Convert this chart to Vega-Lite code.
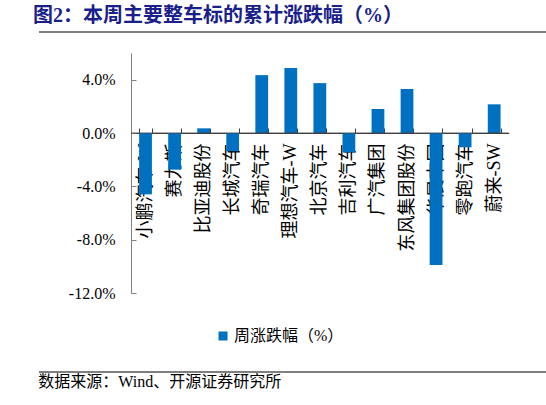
{
  "$schema": "https://vega.github.io/schema/vega-lite/v6.json",
  "background": "white",
  "padding": {"left": 30, "top": 6, "right": 0, "bottom": 0},
  "title": {
    "text": "图2：本周主要整车标的累计涨跌幅（%）",
    "anchor": "start",
    "font": "Liberation Serif, Noto Sans CJK SC",
    "fontSize": 20,
    "fontWeight": "bold",
    "color": "#1a1f8c",
    "dx": 3,
    "offset": 4
  },
  "config": {
    "view": {"stroke": null}
  },
  "spacing": 20,
  "resolve": {"legend": {"color": "independent"}},
  "vconcat": [
    {
      "width": 516,
      "height": 2,
      "data": {"values": [{"from": 0, "to": 1}]},
      "mark": {"type": "rule", "color": "#555555", "strokeWidth": 1.5},
      "encoding": {
        "x": {"field": "from", "type": "quantitative", "scale": {"domain": [0, 1]}, "axis": null},
        "x2": {"field": "to"},
        "y": {"datum": 0, "scale": {"domain": [0, 1]}, "axis": null}
      }
    },
    {
      "width": 516,
      "height": 240,
      "data": {
        "values": [
          {"name": "小鹏汽车-W", "change": -0.046},
          {"name": "赛力斯", "change": -0.0275},
          {"name": "比亚迪股份", "change": 0.0035},
          {"name": "长城汽车", "change": -0.0137},
          {"name": "奇瑞汽车", "change": 0.0434},
          {"name": "理想汽车-W", "change": 0.0487},
          {"name": "北京汽车", "change": 0.0374},
          {"name": "吉利汽车", "change": -0.0145},
          {"name": "广汽集团", "change": 0.018},
          {"name": "东风集团股份", "change": 0.033},
          {"name": "华晨中国", "change": -0.099},
          {"name": "零跑汽车", "change": -0.0107},
          {"name": "蔚来-SW", "change": 0.0215}
        ]
      },
      "encoding": {
        "x": {
          "field": "name",
          "type": "nominal",
          "sort": null,
          "scale": {"range": [92, 469.7], "paddingInner": 0.56, "paddingOuter": 0.28},
          "axis": {
            "title": null,
            "offset": -160,
            "labelAngle": -90,
            "labelFont": "Liberation Serif, Noto Sans CJK SC",
            "labelFontSize": 18,
            "labelColor": "#000000",
            "labelPadding": 15,
            "tickBand": "extent",
            "tickSize": -5,
            "tickColor": "#404040",
            "domainColor": "#404040",
            "domainWidth": 1.2
          }
        }
      },
      "layer": [
        {
          "mark": {"type": "bar", "color": "#0070C0"},
          "encoding": {
            "y": {
              "field": "change",
              "type": "quantitative",
              "scale": {"domain": [-0.12, 0.06], "nice": false},
              "axis": {
                "title": null,
                "grid": false,
                "offset": -92,
                "values": [-0.12, -0.1, -0.08, -0.06, -0.04, -0.02, 0, 0.02, 0.04, 0.06],
                "labelExpr": "replace(format(datum.value, '.1%'), '−', '-')",
                "labelFont": "Liberation Serif",
                "labelFontSize": 16,
                "labelColor": "#000000",
                "labelPadding": 21,
                "labelOverlap": false,
                "tickSize": -5,
                "tickColor": "#7f7f7f",
                "domainColor": "#7f7f7f"
              }
            },
            "color": {
              "datum": "周涨跌幅（%）",
              "scale": {"range": ["#0070C0"]},
              "legend": {
                "title": null,
                "orient": "none",
                "legendX": 176,
                "legendY": 275,
                "symbolType": "square",
                "symbolSize": 81,
                "labelFont": "Liberation Serif, Noto Sans CJK SC",
                "labelFontSize": 16,
                "labelColor": "#000000",
                "labelOffset": 3
              }
            }
          }
        },
        {
          "mark": {"type": "tick", "color": "#404040", "size": 29.1, "thickness": 1.2},
          "encoding": {
            "y": {"datum": 0}
          }
        }
      ]
    },
    {
      "width": 516,
      "height": 8,
      "data": {"values": [{"from": 0, "to": 1}]},
      "title": {
        "text": "数据来源：Wind、开源证券研究所",
        "orient": "bottom",
        "anchor": "start",
        "font": "Liberation Serif, Noto Sans CJK SC",
        "fontSize": 16,
        "fontWeight": "normal",
        "color": "#000000",
        "offset": 1
      },
      "mark": {"type": "rule", "color": "#555555", "strokeWidth": 1.5},
      "encoding": {
        "x": {"field": "from", "type": "quantitative", "scale": {"domain": [0, 1]}, "axis": null},
        "x2": {"field": "to"},
        "y": {"datum": 0, "scale": {"domain": [0, 1]}, "axis": null}
      }
    }
  ]
}
